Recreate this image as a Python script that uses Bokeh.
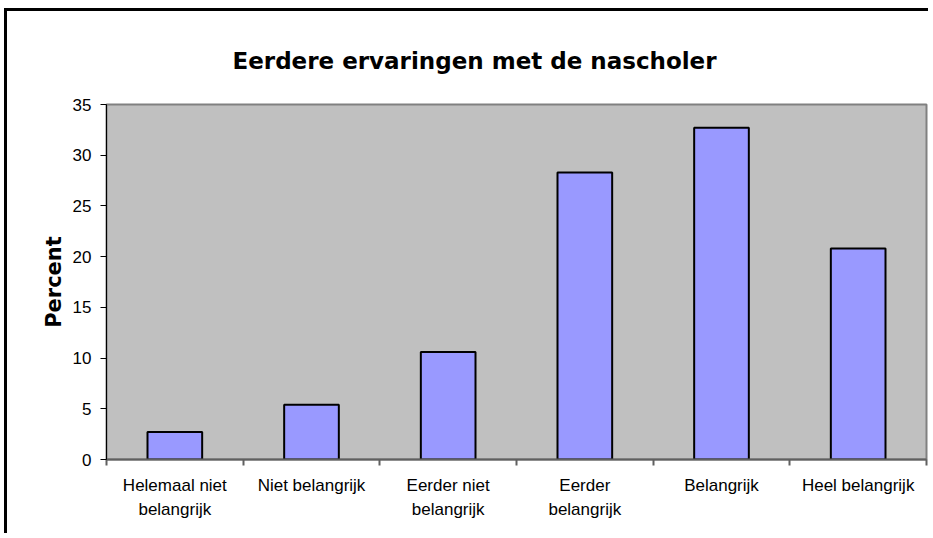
from bokeh.plotting import figure
from bokeh.models import Range1d, LinearAxis, FixedTicker, ColumnDataSource
from bokeh.embed import file_html
from bokeh.resources import INLINE

# ---- data ----
categories = ["Helemaal niet\nbelangrijk", "Niet belangrijk", "Eerder niet\nbelangrijk",
              "Eerder\nbelangrijk", "Belangrijk", "Heel belangrijk"]
percent = [2.7, 5.4, 10.6, 28.3, 32.7, 20.8]
y_ticks = [0, 5, 10, 15, 20, 25, 30, 35]
title_text = "Eerdere ervaringen met de nascholer"
y_label = "Percent"

n = len(categories)
idx = list(range(n))
source = ColumnDataSource(data=dict(x=idx, pct=percent, cat=categories))

p = figure(width=924, height=525, output_backend="svg", toolbar_location=None,
           x_range=Range1d(-0.5, n - 0.5), y_range=Range1d(0, 35),
           x_axis_location=None, y_axis_location=None,
           min_border_left=99, min_border_right=5, min_border_top=93, min_border_bottom=77,
           title=title_text)
p.styles = {"border-left": "3px solid black", "border-top": "3px solid black",
            "margin-left": "4px", "margin-top": "8px"}

p.background_fill_color = "#C0C0C0"
p.border_fill_color = "white"
p.outline_line_color = "#808080"
p.outline_line_width = 2
p.xgrid.visible = False
p.ygrid.visible = False

p.title.align = "left"
p.title.offset = 126
p.title.text_font = "DejaVu Sans"
p.title.text_font_size = "23px"
p.title.text_font_style = "bold"
p.title.text_color = "black"
p.title.standoff = 62

p.vbar(x="x", top="pct", width=0.4, source=source,
       fill_color="#9999FF", line_color="black", line_width=2)

# y axis
yax = LinearAxis(ticker=FixedTicker(ticks=y_ticks), axis_label=y_label)
yax.axis_line_color = "black"
yax.major_tick_line_color = "black"
yax.major_tick_out = 6
yax.major_tick_in = 0
yax.minor_tick_line_color = None
yax.major_label_text_font = "Liberation Sans"
yax.major_label_text_font_size = "17px"
yax.major_label_text_color = "black"
yax.major_label_standoff = 9
yax.axis_label_text_font = "DejaVu Sans"
yax.axis_label_text_font_style = "bold"
yax.axis_label_text_font_size = "21px"
yax.axis_label_text_color = "black"
yax.axis_label_standoff = 4
p.add_layout(yax, "left")

# x axis: labels at category centres, ticks (as minor ticks) at category boundaries
xax = LinearAxis(ticker=FixedTicker(ticks=idx, minor_ticks=[i - 0.5 for i in range(n + 1)]))
xax.axis_line_color = "#606060"
xax.axis_line_width = 2
xax.major_tick_line_color = None
xax.major_tick_out = 0
xax.major_tick_in = 0
xax.minor_tick_line_color = "#606060"
xax.minor_tick_line_width = 2
xax.minor_tick_out = 6
xax.minor_tick_in = 0
xax.major_label_overrides = {i: c for i, c in zip(idx, categories)}
xax.major_label_text_font = "Liberation Sans"
xax.major_label_text_font_size = "17px"
xax.major_label_text_color = "black"
xax.major_label_text_line_height = 1.3
xax.major_label_standoff = 10
p.add_layout(xax, "below")

open("out.html", "w").write(file_html(p, INLINE))
